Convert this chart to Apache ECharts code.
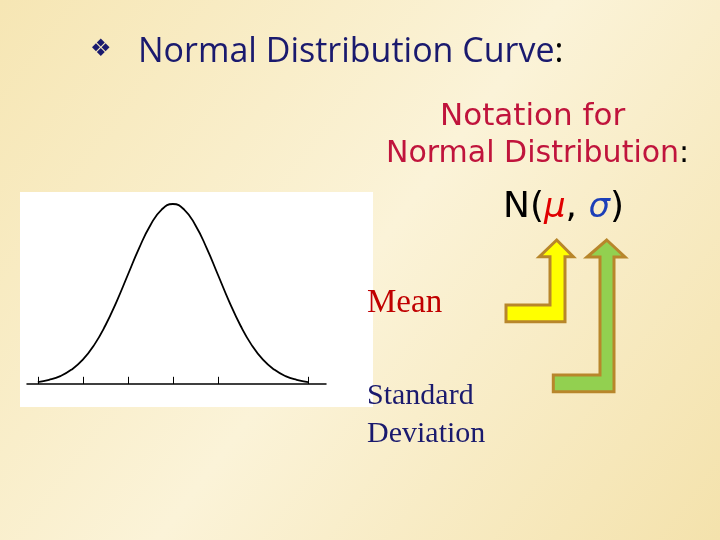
<!DOCTYPE html>
<html><head><meta charset="utf-8">
<script src="https://cdn.jsdelivr.net/npm/echarts@6/dist/echarts.min.js"></script>
<style>html,body{margin:0;padding:0}#c{width:720px;height:540px}</style>
</head><body><div id="c"></div>
<script>
const zValues = [-3,-2.75,-2.5,-2.25,-2,-1.75,-1.5,-1.25,-1,-0.75,-0.5,-0.25,0,0.25,0.5,0.75,1,1.25,1.5,1.75,2,2.25,2.5,2.75,3];
const density = [0.011,0.023,0.044,0.08,0.135,0.216,0.325,0.458,0.607,0.755,0.882,0.969,1,0.969,0.882,0.755,0.607,0.458,0.325,0.216,0.135,0.08,0.044,0.023,0.011];
const tickPositions = [-3,-2,-1,0,1,3];

const chart = echarts.init(document.getElementById('c'));
const curve = zValues.map((z,i)=>[z,density[i]]);
const arrowStyle = {stroke:'#b8862b', lineWidth:3};
chart.setOption({
  backgroundColor:{type:'linear',x:0,y:0,x2:1,y2:1,colorStops:[{offset:0,color:'#f6e6b4'},{offset:0.5,color:'#fbf3d8'},{offset:1,color:'#f4e2ac'}]},
  grid:{left:27,top:204,width:299,height:180},
  xAxis:{type:'value',min:-3.24,max:3.4,axisLine:{onZero:false,lineStyle:{color:'#000',width:1.5}},axisTick:{show:false},axisLabel:{show:false},splitLine:{show:false}},
  yAxis:{type:'value',min:0,max:1,show:false},
  graphic:[
    {type:'rect',z:-10,shape:{x:20,y:192,width:353,height:215},style:{fill:'#fff'}},
    {type:'text',left:90,top:38,style:{text:'❖',font:'24px DejaVu Sans',fill:'#1a1a6e'}},
    {type:'text',left:138,top:35,style:{rich:{a:{font:'34px "Open Sans", "DejaVu Sans"',fill:'#1a1a6e'},b:{font:'34px "Open Sans", "DejaVu Sans"',fill:'#000'}},text:'{a|Normal Distribution Curve}{b|:}'}},
    {type:'text',left:440,top:101,style:{text:'Notation for',font:'31px "DejaVu Sans"',fill:'#c0143c'}},
    {type:'text',left:386,top:139,style:{rich:{a:{font:'30px "DejaVu Sans"',fill:'#c0143c'},b:{font:'30px "DejaVu Sans"',fill:'#000'}},text:'{a|Normal Distribution}{b|:}'}},
    {type:'text',left:503,top:190,style:{rich:{a:{font:'36px "DejaVu Sans"',fill:'#000'},m:{font:'italic 34px "DejaVu Sans"',fill:'#e00000'},s:{font:'italic 34px "DejaVu Sans"',fill:'#1c3fb8'}},text:'{a|N(}{m|μ}{a|, }{s|σ}{a|)}'}},
    {type:'text',left:367,top:287,style:{text:'Mean',font:'33px "Liberation Serif"',fill:'#c00000'}},
    {type:'text',left:367,top:377,style:{text:'Standard\nDeviation',font:'30px "Liberation Serif"',fill:'#1a1a6e',lineHeight:38}},
    {type:'polygon',shape:{points:[[556.7,240],[573.3,256.7],[565,256.7],[565,321.7],[506,321.7],[506,305],[550,305],[550,256.7],[539.3,256.7]]},style:Object.assign({fill:'#ffff00'},arrowStyle)},
    {type:'polygon',shape:{points:[[606.7,240],[625,257],[614,257],[614,391.7],[553.3,391.7],[553.3,375],[600,375],[600,257],[587,257]]},style:Object.assign({fill:'#92d050'},arrowStyle)}
  ],
  series:[
    {type:'line',data:curve,smooth:true,symbol:'none',lineStyle:{color:'#000',width:1.8},
     markLine:{silent:true,symbol:'none',label:{show:false},lineStyle:{color:'#000',type:'solid',width:1},
       data:tickPositions.map(t=>[{coord:[t,0]},{coord:[t,0.04]}])}}
  ]
});
</script></body></html>
